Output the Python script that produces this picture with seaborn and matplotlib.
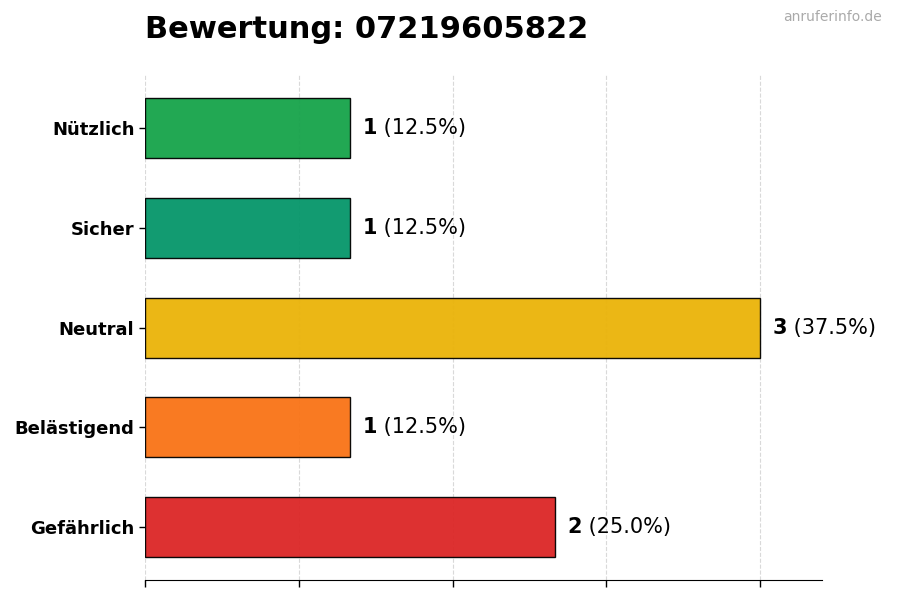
import matplotlib
matplotlib.use("Agg")
import matplotlib.pyplot as plt
import seaborn as sns
import pandas as pd
from matplotlib.transforms import offset_copy

# data
categories = ["Nützlich", "Sicher", "Neutral", "Belästigend", "Gefährlich"]
counts = [1, 1, 3, 1, 2]
bar_colors = ["#16a34a", "#059669", "#eab308", "#f97316", "#dc2626"]
title = "Bewertung: 07219605822"
watermark = "anruferinfo.de"

total = sum(counts)
df = pd.DataFrame({"cat": categories, "n": counts})

sns.set_style("white")
plt.rcParams["font.family"] = ["DejaVu Sans"]
plt.rcParams["text.color"] = "black"
plt.rcParams["xtick.color"] = "black"
plt.rcParams["ytick.color"] = "black"

fig = plt.figure(figsize=(9, 6), dpi=100)
ax = fig.add_axes([0.161, 0.033, 0.752, 0.842])

sns.barplot(data=df, x="n", y="cat", hue="cat", palette=dict(zip(categories, bar_colors)),
            saturation=1, legend=False, width=0.6, edgecolor="black", linewidth=1,
            orient="h", ax=ax, alpha=0.95)

ax.set_xlim(0, 3.3)
ax.set_ylim(4.53, -0.53)
ax.set_xticks([0, 0.75, 1.5, 2.25, 3.0])
ax.set_xticklabels([])
ax.xaxis.grid(True, linestyle="--", color="#d9d9d9", linewidth=0.8)
ax.set_axisbelow(True)
ax.set_xlabel("")
ax.set_ylabel("")
for s in ["top", "right", "left"]:
    ax.spines[s].set_visible(False)
ax.spines["bottom"].set_color("black")
ax.tick_params(axis="x", bottom=True, length=5, width=1, color="black")
ax.tick_params(axis="y", left=True, length=4, width=1, color="black", labelsize=13, labelcolor="black")
for lab in ax.get_yticklabels():
    lab.set_fontweight("bold")

# value labels: bold count then normal percent
fig.canvas.draw()
renderer = fig.canvas.get_renderer()
for i, n in enumerate(counts):
    t = ax.text(n + 0.06, i, str(n), fontsize=15, fontweight="bold", va="center", ha="left", color="black")
    w = t.get_window_extent(renderer=renderer).width
    tr = offset_copy(ax.transData, fig=fig, x=w * 72 / fig.dpi, y=0, units="points")
    ax.text(n + 0.06, i, " (%.1f%%)" % (n / total * 100), fontsize=15, va="center", ha="left",
            color="black", transform=tr)

fig.text(145 / 900, 1 - 30 / 600, title, fontsize=22, fontweight="bold", ha="left", va="center", color="black")
fig.text(0.98, 1 - 17 / 600, watermark, fontsize=10, color="#aaaaaa", ha="right", va="center")

fig.savefig("out.png", dpi=100)
